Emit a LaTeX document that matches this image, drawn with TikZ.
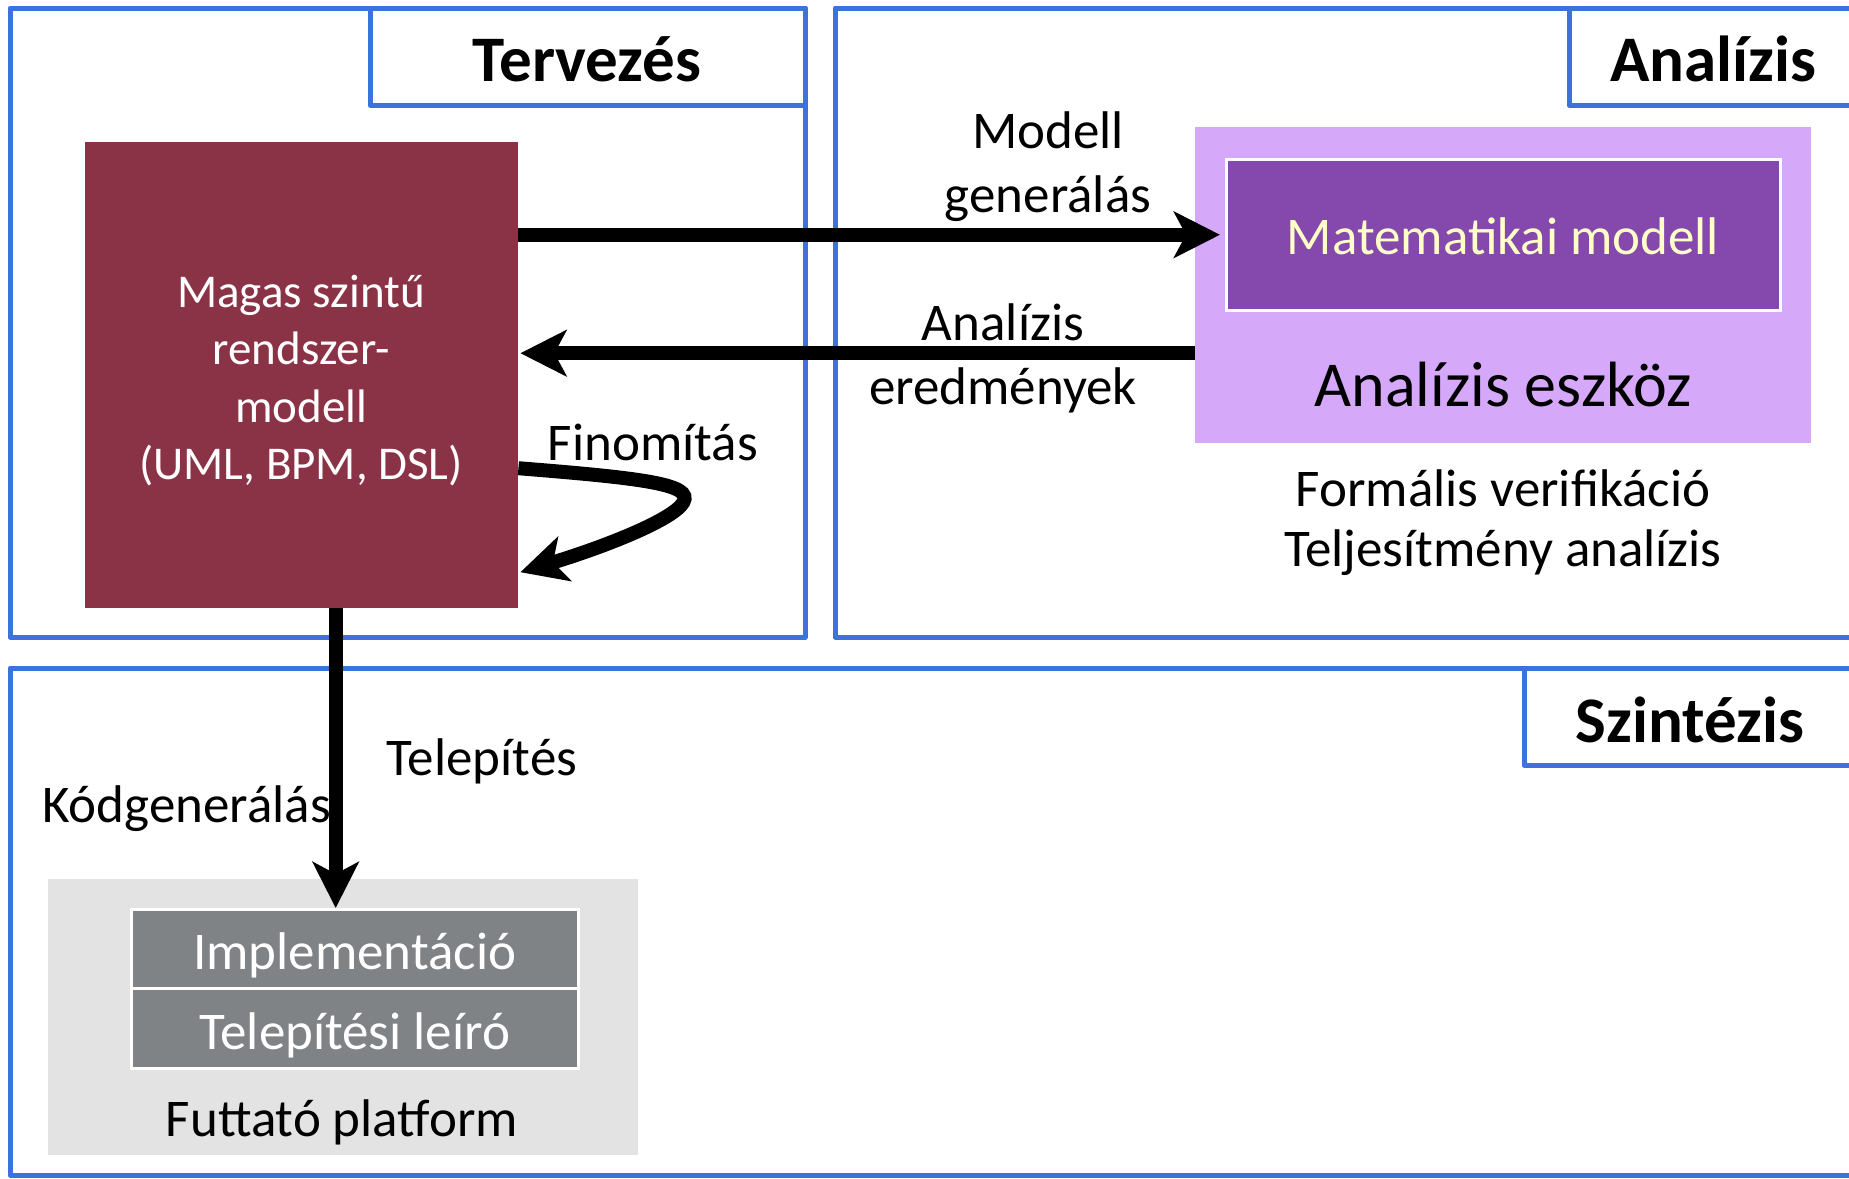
\documentclass[tikz,border=0pt]{standalone}
\usepackage{fontspec}
\setmainfont{Carlito}
\usetikzlibrary{arrows.meta,calc}
\definecolor{frameblue}{HTML}{3C72DC}
\definecolor{modelred}{HTML}{8B3346}
\definecolor{toollilac}{HTML}{D5A8FA}
\definecolor{mathpurple}{HTML}{8548AD}
\definecolor{mathtext}{HTML}{FFFFC7}
\definecolor{platgrey}{HTML}{E3E3E3}
\definecolor{layergrey}{HTML}{7F8386}
\begin{document}
\begin{tikzpicture}[x=1pt,y=-1pt,
  frame/.style={draw=frameblue,line width=5pt,line join=round},
  title/.style={font=\fontsize{65}{72}\selectfont\bfseries,inner sep=0pt,anchor=base},
  lbl/.style={font=\fontsize{53}{64}\selectfont,inner sep=0pt,anchor=base},
  boxtxt/.style={font=\fontsize{47}{57}\selectfont,text=white,inner sep=0pt,anchor=base},
  block/.style={inner sep=0pt,anchor=north west},
  flow/.style={line width=14pt,-{Stealth[length=46pt,width=46pt,inset=12pt]}}]
\useasboundingbox (0,0) rectangle (1849,1178);
\clip (0,0) rectangle (1849,1178);

% phase frames with their title tabs
\draw[frame] (10,8) rectangle (805,637);
\draw[frame] (370,8) rectangle (805,105);
\draw[frame] (835,8) rectangle (1870,637);
\draw[frame] (1569,8) rectangle (1870,105);
\draw[frame] (10,668) rectangle (1870,1175);
\draw[frame] (1524,668) rectangle (1870,765);
\node[title] (tTerv) at (587,81) {Tervezés};
\node[title] (tAnal) at (1713,81) {Analízis};
\node[title] (tSzin) at (1690,742) {Szintézis};

% high level system model
\node[block,fill=modelred,minimum width=433pt,minimum height=466pt] (sys) at (85,142) {};
\node[boxtxt] (s1) at (301,307) {Magas szintű};
\node[boxtxt] (s2) at (301,364) {rendszer-};
\node[boxtxt] (s3) at (301,422) {modell};
\node[boxtxt] (s4) at (301,479) {(UML, BPM, DSL)};

% analysis tool with the mathematical model
\node[block,fill=toollilac,minimum width=616pt,minimum height=316pt] (tool) at (1195,127) {};
\node[block,fill=mathpurple,draw=white,line width=2.5pt,minimum width=554pt,minimum height=151pt] (math) at (1225,158) {};
\node[lbl,text=mathtext] (mtxt) at (1503,254) {Matematikai modell};
\node[lbl,font=\fontsize{64}{70}\selectfont] (ttxt) at (1503,406) {Analízis eszköz};
\node[lbl] (fv) at (1503,506) {Formális verifikáció};
\node[lbl] (ta) at (1503,566) {Teljesítmény analízis};

% execution platform
\node[block,fill=platgrey,minimum width=590pt,minimum height=276pt] (plat) at (48,879) {};
\node[block,fill=layergrey,draw=white,line width=2.5pt,minimum width=447pt,minimum height=79pt] (impl) at (130,908) {};
\node[block,fill=layergrey,draw=white,line width=2.5pt,minimum width=447pt,minimum height=80pt] (desc) at (130,987) {};
\node[lbl,text=white] (itxt) at (impl.center |- 0,969) {Implementáció};
\node[lbl,text=white] (dtxt) at (desc.center |- 0,1049) {Telepítési leíró};
\node[lbl] (ptxt) at (342,1136) {Futtató platform};

% edge labels
\node[lbl] (mg1) at (1048,148) {Modell};
\node[lbl] (mg2) at (1048,212) {generálás};
\node[lbl] (ae1) at (1003,340) {Analízis};
\node[lbl] (ae2) at (1003,404) {eredmények};
\node[lbl] (fin) at (653,460) {Finomítás};
\node[lbl] (tel) at (482,775) {Telepítés};
\node[lbl,anchor=base west] (kod) at (42,822) {Kódgenerálás};

% flows
\coordinate (genfrom) at ($(math.west)+(0,0)$);
\draw[flow] (sys.east |- genfrom) -- ($(math.west)+(-5,0)$);
\coordinate (resfrom) at ($(tool.west)+(0,68)$);
\draw[flow] (resfrom) -- ($(sys.east |- resfrom)+(2,0)$);
% refinement loop back into the model
\coordinate (refstart) at ($(sys.east)+(0,93)$);
\coordinate (refturn) at ($(sys.east)+(165,127)$);
\coordinate (refend) at ($(sys.east)+(2,197)$);
\draw[flow] (refstart) .. controls ($(refstart)+(125,10)$) and ($(refturn)+(10,-18)$) .. (refturn)
  .. controls ($(refturn)+(-10,18)$) and ($(refend)+(80,-24)$) .. (refend);
\coordinate (codefrom) at ($(sys.south)+(34,0)$);
\draw[flow] (codefrom) -- (codefrom |- impl.north);
\end{tikzpicture}
\end{document}
